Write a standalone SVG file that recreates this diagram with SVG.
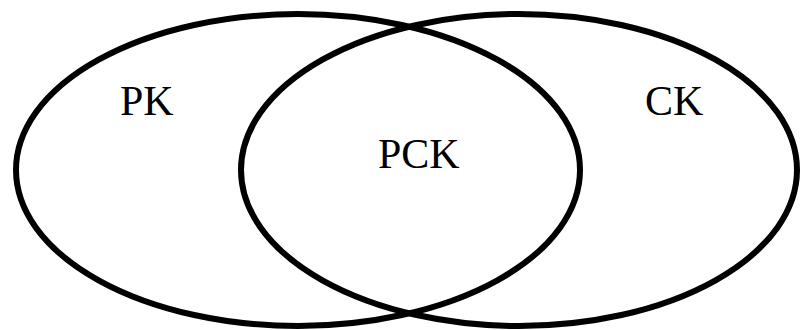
<svg xmlns="http://www.w3.org/2000/svg" width="800" height="330" viewBox="0 0 800 330">
<style>
.e{fill:none;stroke:#000;stroke-width:6}
.t{font-family:"Liberation Serif","Times New Roman",serif;font-size:42px;fill:#000}
</style>
<rect width="800" height="330" fill="#fff"/>
<g id="connectors"></g>
<g id="pk"><ellipse class="e" cx="298" cy="170" rx="282" ry="156"/><text class="t" x="120" y="115">PK</text></g>
<g id="ck"><ellipse class="e" cx="519" cy="170" rx="278" ry="156"/><text class="t" x="645" y="115">CK</text></g>
<g id="pck"><text class="t" x="378" y="168">PCK</text></g>
</svg>
